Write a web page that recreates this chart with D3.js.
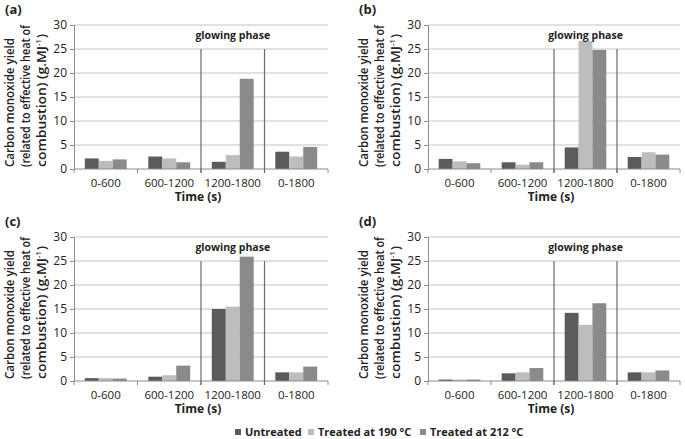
<!DOCTYPE html>
<html><head><meta charset="utf-8">
<script src="https://cdn.jsdelivr.net/npm/d3@7"></script>
<style>body{margin:0;background:#fff}svg{display:block}</style>
</head><body>
<svg id="c" width="685" height="439"></svg>
<script>
const categories = ["0-600", "600-1200", "1200-1800", "0-1800"];
const seriesNames = ["Untreated", "Treated at 190 °C", "Treated at 212 °C"];
const panelLabels = ["(a)", "(b)", "(c)", "(d)"];
const yTicks = [0, 5, 10, 15, 20, 25, 30];
// values[panel][series][category]
const panelA = [[2.2, 2.6, 1.5, 3.6], [1.7, 2.2, 2.9, 2.6], [2.0, 1.4, 18.8, 4.6]];
const panelB = [[2.1, 1.4, 4.5, 2.5], [1.6, 0.9, 26.7, 3.5], [1.2, 1.4, 24.8, 3.0]];
const panelC = [[0.6, 0.9, 15.0, 1.8], [0.6, 1.2, 15.5, 1.8], [0.5, 3.2, 25.9, 3.0]];
const panelD = [[0.3, 1.6, 14.2, 1.8], [0.3, 1.8, 11.7, 1.8], [0.3, 2.7, 16.2, 2.2]];
const panels = [panelA, panelB, panelC, panelD];
const colors = ["#5b5b5b", "#bdbdbd", "#8a8a8a"];

const svg = d3.select("#c");
const font = "'Open Sans', 'Liberation Sans', sans-serif";
const boxes = [
  {x: 74, y: 25, w: 254, h: 144},
  {x: 428, y: 25, w: 252, h: 144},
  {x: 74, y: 237, w: 254, h: 144},
  {x: 428, y: 237, w: 252, h: 144}
];

panels.forEach((data, pi) => {
  const b = boxes[pi];
  const g = svg.append("g").attr("transform", `translate(${b.x},${b.y})`);
  const y = d3.scaleLinear().domain([0, 30]).range([b.h, 0]);
  const x0 = d3.scaleBand().domain(categories).range([0, b.w]).padding(0);
  const x1 = d3.scaleBand().domain(d3.range(seriesNames.length))
    .range([x0.bandwidth() * 0.17, x0.bandwidth() * 0.83]).padding(0);

  // gridlines
  g.selectAll("line.grid").data(yTicks.filter(t => t > 0)).enter().append("line")
    .attr("x1", 0).attr("x2", b.w).attr("y1", d => y(d)).attr("y2", d => y(d))
    .attr("stroke", "#c4c4c4").attr("stroke-width", 1.2);

  // y axis
  const ya = d3.axisLeft(y).tickValues(yTicks).tickSize(4).tickPadding(3);
  const yg = g.append("g").call(ya);
  yg.select(".domain").attr("stroke", "#8c8c8c");
  yg.selectAll(".tick line").attr("stroke", "#8c8c8c");
  yg.selectAll("text").attr("font-family", font).attr("font-size", 12).attr("fill", "#222");

  // bars
  categories.forEach((cat, ci) => {
    data.forEach((ser, si) => {
      g.append("rect")
        .attr("x", x0(cat) + x1(si))
        .attr("width", x1.bandwidth())
        .attr("y", y(ser[ci]))
        .attr("height", y(0) - y(ser[ci]))
        .attr("fill", colors[si]);
    });
  });

  // x axis
  g.append("line").attr("x1", 0).attr("x2", b.w).attr("y1", y(0)).attr("y2", y(0))
    .attr("stroke", "#8c8c8c").attr("stroke-width", 1);
  const bounds = categories.map(c => x0(c)).concat([b.w]);
  g.selectAll("line.xt").data(bounds).enter().append("line")
    .attr("x1", d => d).attr("x2", d => d).attr("y1", y(0)).attr("y2", y(0) + 4)
    .attr("stroke", "#8c8c8c");
  g.selectAll("text.cat").data(categories).enter().append("text")
    .attr("x", d => x0(d) + x0.bandwidth() / 2).attr("y", y(0) + 18)
    .attr("text-anchor", "middle").attr("font-family", font).attr("font-size", 11.5)
    .attr("fill", "#222").text(d => d);

  // glowing phase separators
  const s1 = x0("1200-1800"), s2 = x0("0-1800");
  [s1, s2].forEach(sx => {
    g.append("line").attr("x1", sx).attr("x2", sx).attr("y1", y(25)).attr("y2", y(0) + 4)
      .attr("stroke", "#6a6a6a").attr("stroke-width", 1.2);
  });
  g.append("text").attr("x", (s1 + s2) / 2).attr("y", 14).attr("text-anchor", "middle")
    .attr("font-family", font).attr("font-size", 10.5).attr("font-weight", "bold")
    .attr("fill", "#222").text("glowing phase");

  // x title
  g.append("text").attr("x", b.w / 2 - 3).attr("y", y(0) + 32).attr("text-anchor", "middle")
    .attr("font-family", font).attr("font-size", 12).attr("font-weight", "bold")
    .attr("fill", "#222").text("Time (s)");

  // panel label
  g.append("text").attr("x", -69).attr("y", -11)
    .attr("font-family", font).attr("font-size", 13).attr("font-weight", "bold")
    .attr("fill", "#222").text(panelLabels[pi]);

  // y title (three rotated lines)
  const tg1 = g.append("g").attr("transform", `translate(-60,${y(0) - 2}) rotate(-90)`);
  tg1.append("text").attr("x", 0).attr("y", 0)
    .attr("font-family", font).attr("font-size", 12.5).attr("font-weight", 600)
    .attr("fill", "#222").attr("textLength", 129).attr("lengthAdjust", "spacingAndGlyphs")
    .text("Carbon monoxide yield");
  const tg2 = g.append("g").attr("transform", `translate(-44,${y(0) - 2}) rotate(-90)`);
  tg2.append("text").attr("x", 0).attr("y", 0)
    .attr("font-family", font).attr("font-size", 12.5).attr("font-weight", 600)
    .attr("fill", "#222").attr("textLength", 142).attr("lengthAdjust", "spacingAndGlyphs")
    .text("(related to effective heat of");
  const tg3 = g.append("g").attr("transform", `translate(-28,${y(0) - 2}) rotate(-90)`);
  tg3.append("text").attr("x", 0).attr("y", 0)
    .attr("font-family", font).attr("font-size", 12.5).attr("font-weight", 600)
    .attr("fill", "#222").attr("textLength", 121).attr("lengthAdjust", "spacingAndGlyphs")
    .text("combustion) (g.MJ");
  tg3.append("text").attr("x", 121).attr("y", -5)
    .attr("font-family", font).attr("font-size", 7.5).attr("font-weight", 600)
    .attr("fill", "#222").text("-1");
  tg3.append("text").attr("x", 129).attr("y", 0)
    .attr("font-family", font).attr("font-size", 12.5).attr("font-weight", 600)
    .attr("fill", "#222").text(")");
});

// legend
const legX = [235, 308, 420];
seriesNames.forEach((s, i) => {
  svg.append("rect").attr("x", legX[i]).attr("y", 429).attr("width", 6).attr("height", 6)
    .attr("fill", colors[i]);
  svg.append("text").attr("x", legX[i] + 10).attr("y", 436)
    .attr("font-family", font).attr("font-size", 11).attr("font-weight", "bold")
    .attr("fill", "#222").text(s);
});
</script>
</body></html>
